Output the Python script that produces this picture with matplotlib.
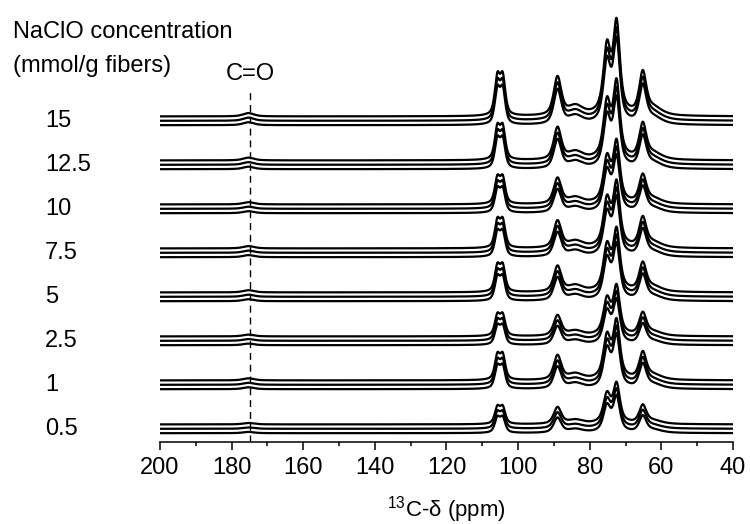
import numpy as np
import matplotlib
matplotlib.use('Agg')
import matplotlib.pyplot as plt
from matplotlib import transforms
from matplotlib.ticker import MultipleLocator

plt.rcParams['font.family'] = ['Liberation Sans', 'DejaVu Sans']
plt.rcParams['mathtext.fontset'] = 'custom'
plt.rcParams['mathtext.rm'] = 'Liberation Sans'

# NaClO concentration of each stacked group, bottom to top
concentrations = ['0.5', '1', '2.5', '5', '7.5', '10', '12.5', '15']
# overall intensity of each group
group_scale = [0.65, 0.95, 0.8, 1.0, 1.05, 1.0, 1.25, 1.5]
# three replicate spectra per group
replicate_scale = [1.0, 0.95, 0.9]
replicate_shift = [0.1, 0.0, -0.1]

# cellulose 13C peaks: position (ppm), height, half width (ppm)
peak_pos = [175.3, 105.8, 104.3, 89.0, 84.0, 75.2, 73.6, 72.5, 65.2, 62.5]
peak_height = [0.05, 0.56, 0.56, 0.58, 0.14, 0.9, 0.18, 1.22, 0.6, 0.12]
peak_width = [1.8, 0.85, 0.85, 1.25, 2.5, 1.15, 3.0, 1.05, 1.15, 3.0]

ppm = np.linspace(200, 40, 2000)


def pseudo_voigt(x, c, h, w, eta=0.6):
    d = (x - c) / w
    return h * (eta / (1 + d ** 2) + (1 - eta) * np.exp(-np.log(2) * d ** 2))


spectrum = np.zeros_like(ppm)
for c, h, w in zip(peak_pos, peak_height, peak_width):
    spectrum += pseudo_voigt(ppm, c, h, w)

fig = plt.figure(figsize=(7.5, 5.24), dpi=100)
ax = fig.add_axes([160 / 750, 82 / 524, 573 / 750, 442 / 524])

# stacked spectra
for i, conc in enumerate(concentrations):
    base = 0.3 + i
    for s, k in zip(replicate_shift, replicate_scale):
        ax.plot(ppm, base + s + group_scale[i] * k * spectrum,
                color='black', linewidth=1.6)
    ax.text(45 / 750, base, conc, fontsize=17, va='center', ha='left',
            transform=transforms.blended_transform_factory(fig.transFigure, ax.transData))

# carbonyl marker
ax.plot([175, 175], [0, 7.95], color='black', linewidth=1.0, dashes=(5, 3.5))
fig.text(250 / 750, 1 - 74 / 524, 'C=O', fontsize=17, ha='center', va='center')

fig.text(13 / 750, 1 - 32 / 524, 'NaClO concentration', fontsize=17, va='center')
fig.text(13 / 750, 1 - 66 / 524, '(mmol/g fibers)', fontsize=17, va='center')

ax.set_xlim(200, 40)
ax.set_ylim(0, 442 / 44)
ax.xaxis.set_major_locator(MultipleLocator(20))
ax.xaxis.set_minor_locator(MultipleLocator(10))
ax.tick_params(axis='x', which='major', direction='out', length=6, width=1.1,
               labelsize=17, pad=5)
ax.tick_params(axis='x', which='minor', direction='out', length=3, width=1.1)
ax.set_yticks([])
for side in ['left', 'right', 'top']:
    ax.spines[side].set_visible(False)
ax.spines['bottom'].set_linewidth(1.1)
ax.set_xlabel(r'$^{13}$C-δ (ppm)', fontsize=16, labelpad=11)

fig.savefig('out.png', dpi=100)
